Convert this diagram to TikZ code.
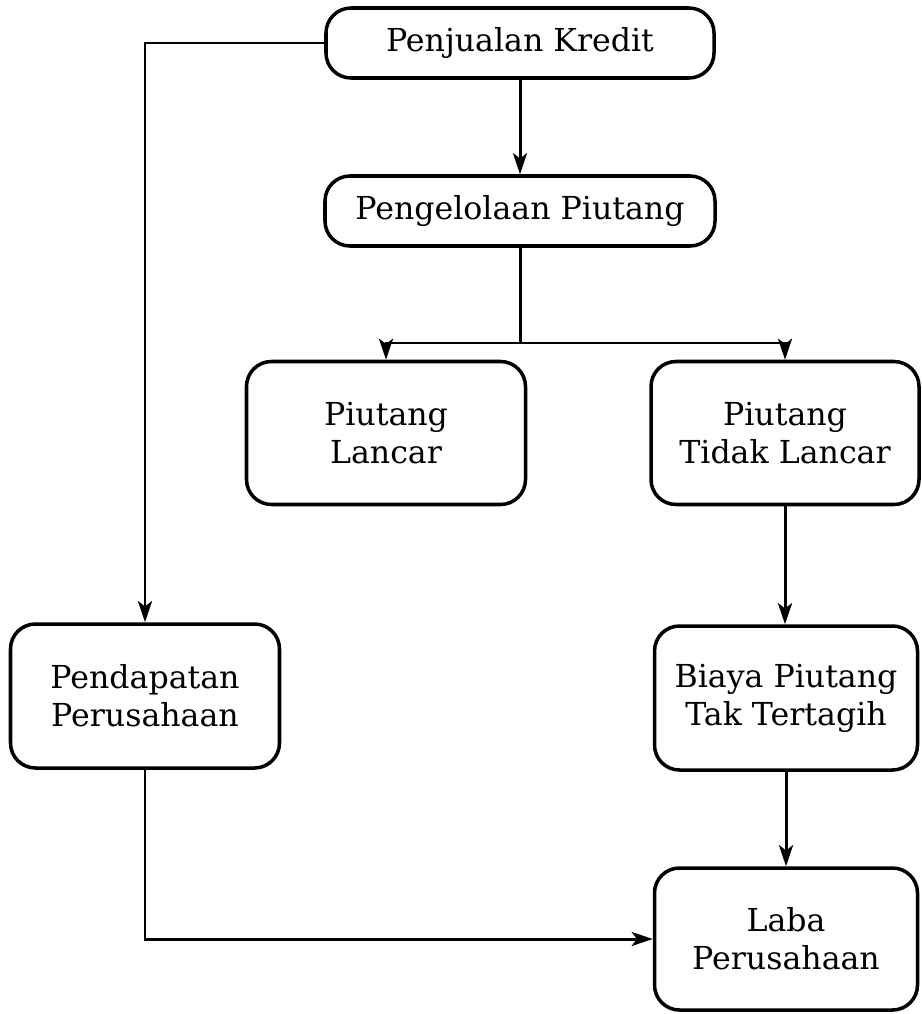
\documentclass[tikz,border=0pt]{standalone}
\usepackage{fontspec}
\setmainfont{DejaVu Serif}
\usetikzlibrary{arrows.meta}
\begin{document}
\begin{tikzpicture}[x=0.02cm,y=-0.02cm,
  box/.style={draw, line width=2pt, rounded corners=0.5cm, align=center, inner sep=0pt,
    font=\fontsize{18}{21.5}\selectfont},
  conn/.style={line width=1.7pt},
  arr/.style={conn, -{Stealth[length=12pt,width=8pt,inset=3pt]}}]
\useasboundingbox (0,0) rectangle (921,1014);
\node[box, minimum width=388*0.02cm, minimum height=70*0.02cm] (pk) at (520,43) {Penjualan Kredit};
\node[box, minimum width=390*0.02cm, minimum height=70*0.02cm] (pp) at (520,211) {Pengelolaan Piutang};
\node[box, minimum width=279*0.02cm, minimum height=143*0.02cm] (pl) at (386,433) {Piutang\\Lancar};
\node[box, minimum width=268*0.02cm, minimum height=143*0.02cm] (ptl) at (785,433) {Piutang\\Tidak Lancar};
\node[box, minimum width=269*0.02cm, minimum height=144*0.02cm] (pend) at (145,696) {Pendapatan\\Perusahaan};
\node[box, minimum width=263*0.02cm, minimum height=144*0.02cm] (bpt) at (786,698) {Biaya Piutang\\Tak Tertagih};
\node[box, minimum width=263*0.02cm, minimum height=142*0.02cm] (laba) at (786,939) {Laba\\Perusahaan};
\coordinate (split) at (520,343);
\draw[arr] (pk.west) -| (pend.north);
\draw[arr] (pk.south) -- (pp.north);
\draw[conn] (pp.south) -- (split);
\draw[arr] (split) -| (pl.north);
\draw[arr] (split) -| (ptl.north);
\draw[arr] (ptl.south) -- (ptl.south |- bpt.north);
\draw[arr] (bpt.south) -- (laba.north);
\draw[arr] (pend.south) |- (laba.west);
\end{tikzpicture}
\end{document}
